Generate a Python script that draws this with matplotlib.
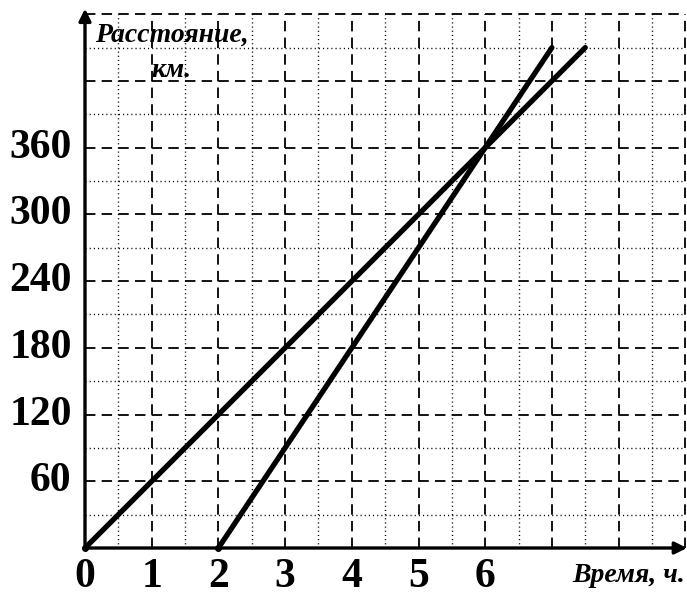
import numpy as np
import matplotlib.pyplot as plt

plt.rcParams['lines.scale_dashes'] = False

# data
hours = [0, 1, 2, 3, 4, 5, 6]
km_ticks = [60, 120, 180, 240, 300, 360]
car1_t = [0, 7.5]
car1_s = [0, 450]
car2_t = [2, 7]
car2_s = [0, 450]

x_max = 9
y_max = 480

fig = plt.figure(figsize=(6.87, 5.97), dpi=100)
ax = fig.add_axes([0, 0, 1, 1])
ax.set_xlim(-85 / 66.7, 602 / 66.7)
ax.set_ylim(-49 / 1.112, 548 / 1.112)
ax.axis('off')

dash = (0, (7.5, 4.5))
dot = (0, (0.8, 2.2))

# grid: dashed at whole steps, dotted at half steps
for x in np.arange(1, x_max + 1):
    ax.plot([x, x], [0, y_max], color='black', lw=1.3, ls=dash)
for x in np.arange(0.5, x_max, 1):
    ax.plot([x, x], [0, y_max], color='black', lw=1.0, ls=dot)
for y in np.arange(60, y_max + 1, 60):
    ax.plot([0, x_max], [y, y], color='black', lw=1.3, ls=dash)
for y in np.arange(30, y_max, 60):
    ax.plot([0, x_max], [y, y], color='black', lw=1.0, ls=dot)

# axes with arrows
ax.annotate('', xy=(0, y_max + 5), xytext=(0, 0),
            arrowprops=dict(arrowstyle='-|>', color='black', lw=2.4,
                            mutation_scale=18, shrinkA=0, shrinkB=0))
ax.annotate('', xy=(602 / 66.7, 0), xytext=(0, 0),
            arrowprops=dict(arrowstyle='-|>', color='black', lw=2.4,
                            mutation_scale=18, shrinkA=0, shrinkB=0))

# the two motion graphs
ax.plot(car1_t, car1_s, color='black', lw=3.8, solid_capstyle='round')
ax.plot(car2_t, car2_s, color='black', lw=3.8, solid_capstyle='round')
ax.plot([0, 2], [0, 0], 'o', color='black', ms=4)

tick_font = dict(family='Liberation Serif', weight='bold', size=30)
for h in hours:
    ax.text(h, -43.5, str(h), ha='center', va='bottom', **tick_font)
for s in km_ticks:
    ax.text(-0.2, s, str(s), ha='right', va='center', **tick_font)

lab_font = dict(family='Liberation Serif', weight='bold', style='italic', size=20)
ax.text(0.15, 455, 'Расстояние,', ha='left', va='baseline', **lab_font)
ax.text(1.0, 424, 'км.', ha='left', va='baseline', **lab_font)
ax.text(9.0, -31, 'Время, ч.', ha='right', va='baseline', **lab_font)

plt.savefig('out.png', dpi=100)
